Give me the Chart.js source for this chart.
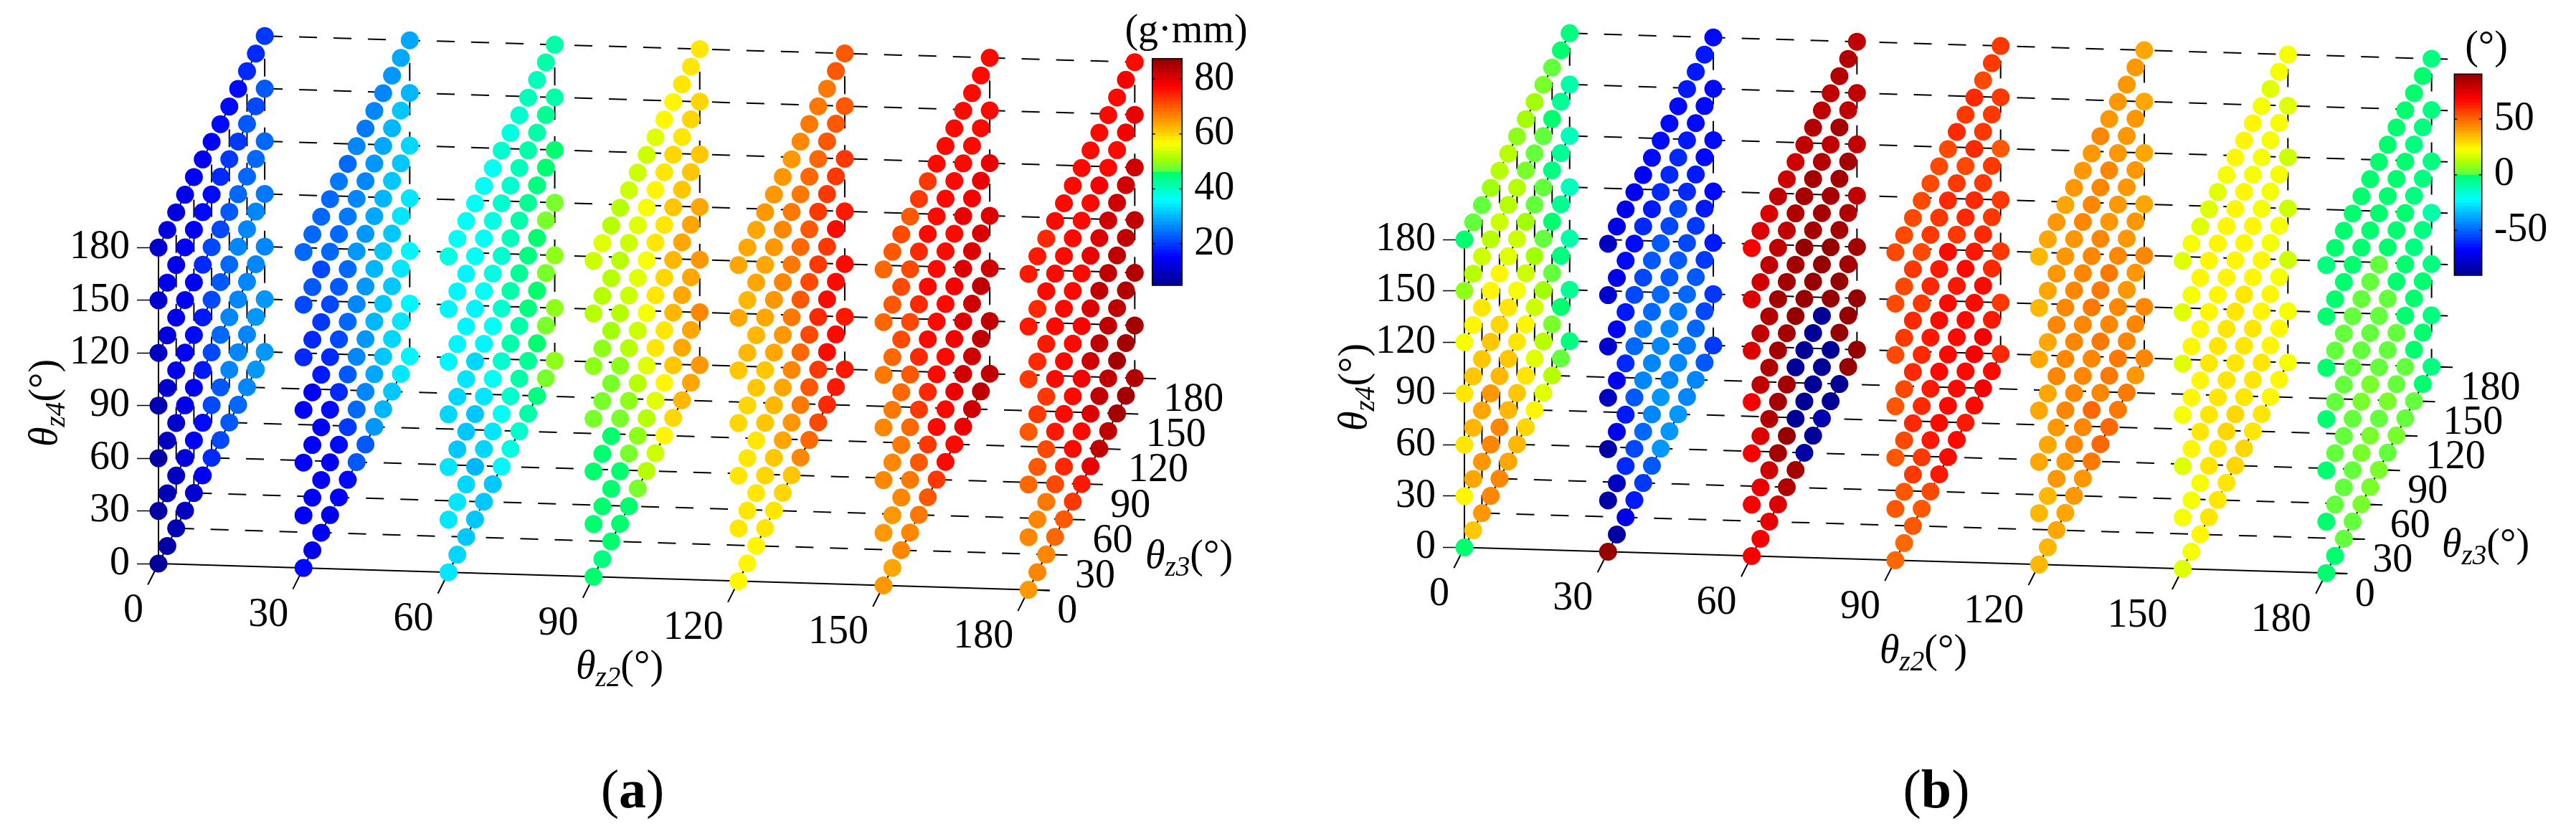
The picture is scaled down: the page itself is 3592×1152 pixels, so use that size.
<!DOCTYPE html>
<html>
<head>
<meta charset="utf-8">
<script src="https://cdn.jsdelivr.net/npm/chart.js@4/dist/chart.umd.js"></script>
<style>
body { margin: 0; background: #fff; }
#figure { position: relative; width: 3592px; height: 1152px; overflow: hidden; background: #fff; }
#figure canvas { position: absolute; }
.t { position: absolute; font: 56px "Liberation Serif", serif; color: #000; white-space: nowrap; transform: translate(-50%, -50%); }
.t sub { font-size: 70%; line-height: 0; vertical-align: -0.28em; font-style: italic; }
.t i { font-style: italic; }
.rot { transform: translate(-50%, -50%) rotate(-90deg); }
.tag { font-size: 76px; }
</style>
</head>
<body>
<div id="figure">
  <canvas id="panelA" width="1790" height="1152" style="left:0;top:0;width:1790px;height:1152px"></canvas>
  <canvas id="panelB" width="1802" height="1152" style="left:1790px;top:0;width:1802px;height:1152px"></canvas>
  <canvas id="barA" width="170" height="376" style="left:1598px;top:52px;width:170px;height:376px"></canvas>
  <canvas id="barB" width="170" height="341" style="left:3414px;top:73px;width:170px;height:341px"></canvas>

  <div class="t rot" style="left:60px;top:562px"><i>θ<sub>z4</sub></i>(°)</div>
  <div class="t" style="left:864px;top:927px"><i>θ<sub>z2</sub></i>(°)</div>
  <div class="t" style="left:1658px;top:773px"><i>θ<sub>z3</sub></i>(°)</div>
  <div class="t" style="left:1654px;top:40px">(g·mm)</div>
  <div class="t tag" style="left:882px;top:1100px">(<b>a</b>)</div>

  <div class="t rot" style="left:1886px;top:540px"><i>θ<sub>z4</sub></i>(°)</div>
  <div class="t" style="left:2682px;top:905px"><i>θ<sub>z2</sub></i>(°)</div>
  <div class="t" style="left:3466px;top:757px"><i>θ<sub>z3</sub></i>(°)</div>
  <div class="t" style="left:3467px;top:63px">(°)</div>
  <div class="t tag" style="left:2700px;top:1100px">(<b>b</b>)</div>
</div>
<script>
const z2Ticks = [0, 30, 60, 90, 120, 150, 180];
const z3Ticks = [0, 30, 60, 90, 120, 150, 180];
const z4Ticks = [0, 30, 60, 90, 120, 150, 180];
const z3Steps = [0, 15, 30, 45, 60, 75, 90, 105, 120, 135, 150, 165, 180];
const barTicksA = [20, 40, 60, 80];
const barTicksB = [-50, 0, 50];

// each slab: one row per z3 step (0..180), values from z4=180 down to z4=0
const amountZ2_0 = [
  [11,10.5,9.5,8,7,7,5.5],[11.5,13,11.5,10.5,9,8,7],[12.5,13.5,13,13,11,10,8],[13,14,14,14,13.5,12,9.5],
  [14.5,15,15,15.7,15,14,11],[15,15.7,18,17.2,17.2,16.5,14],[15,16.5,20.6,21,21,20.6,18],[15.7,18,20.6,22.4,23.3,22.4,20.6],
  [16.5,20,22.4,24,25.7,25.7,22.4],[15.7,20,23.3,25.7,26,26.8,24],[18.7,21.7,23.3,25.7,26.4,26.8,26],[18.7,21,23.3,26,26.4,27.2,27.2],
  [20,21.7,24,24.7,26.4,27.2,27.6]];
const amountZ2_30 = [
  [23.3,21,18,14.5,14.5,15,16.5],[23.3,21.7,18.7,14.5,15,14,13],[24,20.6,20,17.2,15,14,14],[24,23.3,21,18.7,16.5,15,13.5],
  [24.7,24,22.4,20.6,18.7,16.5,14.5],[23.3,24.7,24,23.3,21.7,20,16.5],[25.7,26.4,27.2,26.4,26,24,21.7],[24.7,26,27.6,28,27.2,26,22.4],
  [26.4,27.6,29.2,30,30.3,28.4,27.2],[26,28.4,30,31,30.7,31,29.5],[27.6,29.5,31.5,31.8,31.8,32.2,31],[28.8,30.7,31.8,34,33.3,33.8,34.4],
  [28.8,30.3,32.2,33.8,34.8,35.3,35.3]];
const amountZ2_60 = [
  [38,35.5,34.8,32.5,33.3,33.8,33.8],[37,35.3,34.8,32.5,31.8,33.3,33],[37,35.3,34.8,33.3,31.8,32.5,30.7],[37,36.5,35.5,32.5,31,30.3,30.7],
  [36.5,36.5,36,35.5,33.3,32.5,30.7],[37,38,38,37,36.5,34,31.5],[38.5,39.5,39.5,39.5,39,36.5,34.8],[38,39.5,40.5,41,41,39,37.5],
  [39,40,41.5,42.5,42,41,38.5],[40,41,42.5,44.5,44,43,41.5],[40,42,44.5,46,45.5,45.5,44.5],[41,42.5,46,47.5,47.5,47.5,47.5],
  [41,42,45.5,47.5,49,49,49]];
const amountZ2_90 = [
  [53.5,52,49,47.5,46,45,45],[54,52,49,47.5,45,45,44.5],[52,52,50.5,47.5,46,46,45.5],[52,52,52,49,47.5,45,45.5],
  [53.5,53.5,53.5,52,49,47.5,46],[53.5,54.5,55,53.5,52,49,47.5],[53.5,56,56,56,55,52.5,51.5],[55,56.5,58.5,58.5,58.5,55,53.5],
  [56.5,58,59,60,59,57.5,56.5],[56.5,59.5,61,62,62,61,60],[58,59,61,63,63,63,62.5],[58,60,61,63,63.5,63.5,63.5],
  [58.5,60,61,64,65,65.5,65]];
const amountZ2_120 = [
  [64,64,61,60,58.5,58.5,57.5],[64,62.5,62,59.5,58.5,58,57.5],[64,63,62,61,59,58.5,57.5],[64.5,64,63.5,61,61,60,58.5],
  [65,64.5,64.5,63,62,61,59],[65,66,66,65,64,63,60],[65,67,67,67.5,66,65,61.5],[65.5,68,69,69.5,69,67.5,66],
  [67,68.5,70,71,71,70,69],[68,69,72,72.5,73.5,72,71],[68,70,72,73,76,76,74.5],[70,70.5,72,76,77,76.5,75],
  [70,70,72.5,75.5,76,75.5,75.5]];
const amountZ2_150 = [
  [69,68.5,67,66,66,65,64.5],[70,69.5,69,67,66,65,64],[71,71.5,71,69,67.5,66.5,65.5],[70,71.5,71,70,69,67,66.5],
  [73,73.5,74,73.5,72,70,67.5],[73,76,76.5,76,74.5,73,70],[76,76,76.5,77,77,76,73],[76.5,76.5,76.5,76.5,76.5,76.5,76],
  [77,77,77,77.5,78,79.5,77],[77,77,78.5,80.5,80.5,81,78.5],[77,77,77.5,80,82,81.5,81],[77,77,78.5,80,83,82.5,82.5],
  [77,77,78.5,80.5,82,82.5,82.5]];
const amountZ2_180 = [
  [75,75,72,70,69,66,65],[75,74.5,73.5,72,69.5,66,65.5],[74.5,76,75,73,71.5,67,66.5],[76,76,76,76,75,71.5,69],
  [76.5,76,76,76,76,74.5,70],[77,76.5,77,76.5,77,76,72],[77,77,77,77.5,77.5,76.5,75],[77,77,79,80,81,80.5,79],
  [77,77.5,80,82.5,82.5,82.5,82.5],[77,77,81,82.5,83.5,83.5,83],[77,77,81,82.5,83.5,85.5,86],[77.5,77.5,81,82.5,84,86,86],
  [77,78.5,81,82.5,84,85,84.5]];

const phaseZ2_0 = [
  [-2,6,20,26,28,22.5,-2],[1.5,12,22.5,33,36.5,38.5,31],[2.5,15,27,33,38.5,41,41],[9.5,14,23,33,40,44.5,44],
  [12,16,22.5,28.5,36.5,43,44],[12,12.5,19.5,28,33,36.5,38],[6,12.5,15,20,26,31.5,36.5],[9,4,9,16,22.5,26,30.5],
  [9,2.5,2,10.8,15,19.5,25],[3,1,1,1.5,9,12,19.5],[1.5,-0.5,-3,-0.5,1.5,3,12],[-0.5,-6.5,-7,-7,-4.5,-0.5,2],
  [-4.5,-8.7,-12.3,-13,-10,-7,-4.5]];
const phaseZ2_30 = [
  [-80,-76,-76,-80,-85,-85,89],[-73,-71,-70,-70,-71,-80,-85],[-71,-67.5,-63,-59.5,-64,-60,-72],[-70,-65,-56,-50,-51,-55,-63],
  [-68.5,-61,-55,-47,-44.5,-50,-57],[-67.5,-62,-52.5,-50,-43.5,-43.5,-52],[-65,-60,-52,-48,-44.5,-42,-41],[-66,-59.5,-55,-51,-45,-43.5,-41],
  [-66.5,-60,-55,-52,-46,-42.5,-40],[-63,-62,-61,-55,-49,-47,-44.5],[-63,-65,-64,-58.5,-52.5,-48,-45],[-62,-67,-67,-64,-58.5,-55,-53],
  [-67.5,-67,-66,-66,-64,-58.5,-57]];
const phaseZ2_60 = [
  [68.5,74.5,74.5,68.5,68.5,68.5,68.5],[74.5,78.5,80.5,80.5,74.5,71.5,68.5],[75.5,80.5,83.5,83.5,83.5,77.5,72.5],[79.5,81.5,85.5,85.5,85.5,84.5,75.5],
  [78.5,80.5,84.5,86.5,85.5,88.5,83.5],[77.5,83.5,85.5,88.5,-88,-88,85.5],[79.5,85.5,88.5,88.5,-88,-88,-87],[83.5,86.5,86.5,88.5,-88,-88,-88],
  [81.5,83.5,85.5,88.5,-88,-88,-84],[81.5,81.5,85.5,88.5,88.5,-88,-88],[83.5,84.5,84.5,86.5,88.5,88.5,-89],[83.5,79.5,84.5,83.5,86.5,89,88.5],
  [79.5,79.5,80.5,79.5,84.5,88.5,88.5]];
const phaseZ2_90 = [
  [54,55,56,53,53,52.5,50.5],[54,56,58.5,56,56,53,50.5],[55,58.5,60,60,59.5,58,52.5],[55,55,58.5,59.5,60,58.5,53],
  [55,58.5,60.5,63,63,62,55],[54,57,63,65,65.5,65,62],[54,60,66.5,65.5,66.5,66.5,65],[60,58.5,58.5,63,65.5,65.5,65.5],
  [58,56,60.5,65.5,66.5,66.5,64],[59.5,59.5,61.5,63,66.5,67.5,66.5],[56,57,58.5,60,65,67.5,67.5],[57,57,57,58.5,61.5,62,66],
  [58.5,57,52.5,58,57,58.5,60.5]];
const phaseZ2_120 = [
  [35.5,35.5,37.5,37.5,37.5,36.5,35.5],[37.5,39,39,38,37.5,36.5,35.5],[41,40,43.5,42.5,42,41,37.5],[39,41,43,43.5,44.5,42,38],
  [40,42,43.5,43.5,43.5,43,41],[41,43,43.5,44.5,43.5,43.5,40],[42,43.5,44.5,45.5,44.5,48,45.5],[43,43.5,44.5,46.3,45.5,44.5,48],
  [41,43,42,45.5,44.5,45.5,48],[42,41,41,43,43.5,45.5,47.5],[42,41,41,41,41,43.5,46],[40,40,41,40,40,43.5,42],
  [37.5,37.5,38,37.5,43,43.5,43.5]];
const phaseZ2_150 = [
  [18,18,18,20,19.5,20,17],[20,20,22.5,22.5,23,21,21],[19.5,22.5,22.5,23,26.5,22,23],[19.5,22.5,22.5,26,26.5,26,25.5],
  [19.5,24,23,26,27,26,25.5],[22,22.5,22.5,26,27,29.5,28],[22.5,22.5,22.5,28,28,30.5,29.5],[23,22.5,22.5,26,28,28,29.5],
  [23,22,22.5,22.5,26,26,26],[20,20,20,22.5,22.5,26,28],[19.5,22,20,20,22.5,22.5,25],[20,20,20,20,20,22.5,24],
  [20,19.5,16.5,16,16,20,20.5]];
const phaseZ2_180 = [
  [-4,-1,-1,-1,-0.5,-1,-2],[-1,-0.5,1,1,1,1,-1],[-1,-0.5,1,1,1,1,1],[-0.5,-0.5,1,1,1.5,1,2.5],
  [-0.5,-0.5,1,1,3,3,3],[-0.5,-0.5,1,1,3,3,3],[-0.5,-0.5,1,1,1,1.5,3],[-0.5,-0.5,-0.5,1,1,3,2.5],
  [-0.5,-1,-0.5,-0.5,1,1.5,3],[-1,-1.5,-1.5,-2,-0.5,1.5,2],[-1.5,-3,-3,-3,-1,-0.5,2.5],[-2,-4,-4,-4,-2,-0.5,-2],
  [-4.5,-4.5,-4.5,-8.5,-5,-4.5,-4]];

const amountSlabs = [amountZ2_0, amountZ2_30, amountZ2_60, amountZ2_90, amountZ2_120, amountZ2_150, amountZ2_180];
const phaseSlabs = [phaseZ2_0, phaseZ2_30, phaseZ2_60, phaseZ2_90, phaseZ2_120, phaseZ2_150, phaseZ2_180];

const serif = 'Liberation Serif';

// colour map of the figure: jet, but with the jump to light green in the middle
const cmapStops = [
  [0, 0, 0, 143], [0.125, 0, 0, 255], [0.375, 0, 255, 255], [0.5, 0, 255, 100], [0.5, 90, 255, 70],
  [0.56, 170, 255, 0], [0.625, 255, 255, 0], [0.875, 255, 0, 0], [1, 143, 0, 0]
];

function cmapColor(t) {
  const level = Math.min(63, Math.max(0, Math.floor(t * 64)));
  const c = (level + 0.5) / 64;
  for (let i = 1; i < cmapStops.length; i++) {
    const a = cmapStops[i - 1], b = cmapStops[i];
    if (c <= b[0] && b[0] > a[0]) {
      const f = (c - a[0]) / (b[0] - a[0]);
      return `rgb(${Math.round(a[1] + f * (b[1] - a[1]))},${Math.round(a[2] + f * (b[2] - a[2]))},${Math.round(a[3] + f * (b[3] - a[3]))})`;
    }
  }
  return 'rgb(143,0,0)';
}

// the 3D axes are sheared onto the flat chart: x stays in z2 degrees, y in z4 degrees
const SHEAR_X = 0.1221, SHEAR_Y_Z2 = -0.083, SHEAR_Y_Z3 = 0.670;
function project(z2, z3, z4) {
  return { x: z2 + SHEAR_X * z3, y: z4 + SHEAR_Y_Z2 * z2 + SHEAR_Y_Z3 * z3 };
}

function lineSet(from, to, dashed) {
  return {
    data: [project(...from), project(...to)],
    showLine: true, pointRadius: 0, borderColor: '#000', borderWidth: 2,
    borderDash: dashed ? [25, 23] : [], clip: false, order: 2
  };
}

function gridLines() {
  const END = 184.4, sets = [];
  z3Ticks.slice(1).forEach(z3 => sets.push(lineSet([0, z3, 0], [END, z3, 0], true)));
  z4Ticks.slice(1).forEach(z4 => sets.push(lineSet([0, 180, z4], [END, 180, z4], true)));
  z2Ticks.forEach(z2 => sets.push(lineSet([z2, 180, 0], [z2, 180, 180], true)));
  z3Ticks.slice(1, -1).forEach(z3 => sets.push(lineSet([0, z3, 0], [0, z3, 180], true)));
  z4Ticks.slice(1).forEach(z4 => sets.push(lineSet([0, 0, z4], [0, 180, z4], true)));
  z2Ticks.slice(1, -1).forEach(z2 => sets.push(lineSet([z2, 0, 0], [z2, 180, 0], true)));
  // solid axes and outside ticks
  sets.push(lineSet([0, 0, 0], [END, 0, 0], false));
  sets.push(lineSet([0, 0, 0], [0, 0, 180], false));
  sets.push(lineSet([180, 0, 0], [180, 180, 0], false));
  sets.push(lineSet([0, 0, 0], [0, 180, 0], false));
  z2Ticks.forEach(z2 => sets.push(lineSet([z2, 0, 0], [z2, -18, 0], false)));
  z3Ticks.forEach(z3 => sets.push(lineSet([180, z3, 0], [END, z3, 0], false)));
  return sets;
}

function slabPoints(slabs) {
  const pts = [];
  slabs.forEach((slab, s) => {
    slab.forEach((col, k) => {
      col.forEach((v, r) => {
        const z4 = z4Ticks[z4Ticks.length - 1 - r];
        pts.push({ ...project(z2Ticks[s], z3Steps[k], z4), v: v });
      });
    });
  });
  return pts;
}

const axisLabels = {
  id: 'axisLabels',
  afterDatasetsDraw(chart) {
    const { ctx, scales: { x, y } } = chart;
    ctx.save();
    ctx.fillStyle = '#000';
    ctx.font = `56px "${serif}"`;
    ctx.textBaseline = 'middle';
    ctx.textAlign = 'right';
    z2Ticks.forEach(z2 => {
      const p = project(z2, 0, 0);
      ctx.fillText(String(z2), x.getPixelForValue(p.x) - 21, y.getPixelForValue(p.y) + 66);
    });
    ctx.textAlign = 'left';
    z3Ticks.forEach(z3 => {
      const p = project(180, z3, 0);
      ctx.fillText(String(z3), x.getPixelForValue(p.x) + 40, y.getPixelForValue(p.y) + 31);
    });
    ctx.restore();
  }
};

function makePanel(id, slabs, vMin, vMax, g) {
  const yMin = -30, yMax = 320, xMax = 225;
  const canvas = document.getElementById(id);
  const bottom = g.floorY + 30 * g.pxY;
  const top = bottom - (yMax - yMin) * g.pxY;
  const right = g.axisX + xMax * g.pxX;
  return new Chart(canvas, {
    type: 'scatter',
    data: {
      datasets: [{
        data: slabPoints(slabs),
        pointRadius: 12.5,
        pointHoverRadius: 12.5,
        pointBorderWidth: 0,
        pointBackgroundColor: c => c.raw ? cmapColor((c.raw.v - vMin) / (vMax - vMin)) : '#000',
        clip: false,
        order: 1
      }].concat(gridLines())
    },
    options: {
      responsive: false,
      animation: false,
      events: [],
      layout: { autoPadding: false, padding: { left: 0, top: top, right: canvas.width - right, bottom: canvas.height - bottom } },
      plugins: { legend: { display: false }, tooltip: { enabled: false } },
      scales: {
        x: { type: 'linear', min: 0, max: xMax, display: false },
        y: {
          type: 'linear', min: yMin, max: yMax, position: 'left',
          border: { display: false },
          grid: { drawOnChartArea: false, tickLength: 30, tickColor: '#000', tickWidth: 1.5 },
          ticks: { color: '#000', padding: 10, autoSkip: false, font: { family: serif, size: 56 } },
          afterBuildTicks: axis => { axis.ticks = z4Ticks.map(v => ({ value: v })); },
          afterFit: axis => { axis.width = g.axisX; axis.paddingTop = 0; axis.paddingBottom = 0; }
        }
      }
    },
    plugins: [axisLabels]
  });
}

const barFrame = {
  id: 'barFrame',
  afterDraw(chart) {
    const { ctx, chartArea: a, scales: { y } } = chart;
    ctx.save();
    ctx.strokeStyle = '#000';
    ctx.lineWidth = 1.5;
    ctx.strokeRect(a.left, a.top, a.right - a.left, a.bottom - a.top);
    y.ticks.forEach(t => {
      const py = y.getPixelForValue(t.value);
      ctx.beginPath();
      ctx.moveTo(a.left, py); ctx.lineTo(a.left + 4, py);
      ctx.moveTo(a.right, py); ctx.lineTo(a.right - 4, py);
      ctx.stroke();
    });
    ctx.restore();
  }
};

function makeBar(id, vMin, vMax, ticks, g) {
  const canvas = document.getElementById(id);
  const step = (vMax - vMin) / 64;
  const levels = [];
  for (let i = 0; i < 64; i++) {
    levels.push({
      data: [[vMin + (i - 0.2) * step, vMin + (i + 1) * step]],
      backgroundColor: cmapColor((i + 0.5) / 64),
      borderWidth: 0,
      barPercentage: 1,
      categoryPercentage: 1
    });
  }
  return new Chart(canvas, {
    type: 'bar',
    data: { labels: [''], datasets: levels },
    options: {
      responsive: false,
      animation: false,
      events: [],
      layout: { autoPadding: false, padding: { left: g.left, top: g.top, right: 0, bottom: g.bottom } },
      plugins: { legend: { display: false }, tooltip: { enabled: false } },
      scales: {
        x: { display: false, stacked: true },
        y: {
          type: 'linear', min: vMin, max: vMax, position: 'right',
          border: { display: false },
          grid: { drawOnChartArea: false, drawTicks: false },
          ticks: { color: '#000', padding: 17, autoSkip: false, font: { family: serif, size: 56 } },
          afterBuildTicks: axis => { axis.ticks = ticks.map(v => ({ value: v })); },
          afterFit: axis => { axis.width = g.axisWidth; axis.paddingTop = 0; axis.paddingBottom = 0; }
        }
      }
    },
    plugins: [barFrame]
  });
}

makePanel('panelA', amountSlabs, 4.9, 87.4, { axisX: 221, floorY: 786, pxX: 6.74, pxY: 2.448 });
makePanel('panelB', phaseSlabs, -90, 90, { axisX: 252, floorY: 762, pxX: 6.677, pxY: 2.437 });
makeBar('barA', 4.9, 87.4, barTicksA, { left: 8.7, top: 29.7, bottom: 30, axisWidth: 119.7 });
makeBar('barB', -90.4, 90.4, barTicksB, { left: 8.3, top: 30.3, bottom: 30, axisWidth: 123.3 });
</script>
</body>
</html>
